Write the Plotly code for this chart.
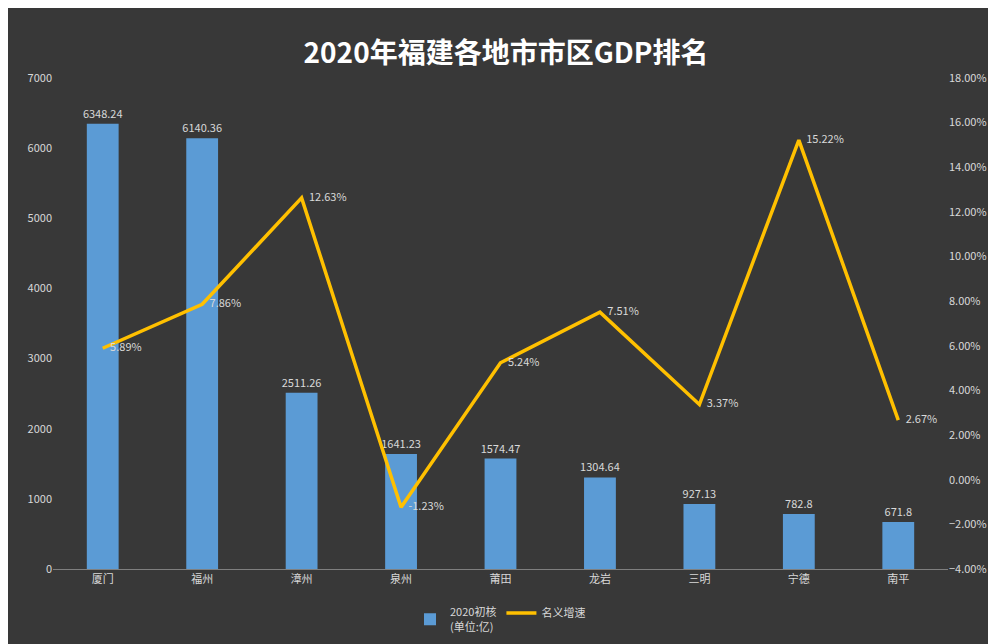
import plotly.graph_objects as go

cities = ["厦门", "福州", "漳州", "泉州", "莆田", "龙岩", "三明", "宁德", "南平"]
gdp = [6348.24, 6140.36, 2511.26, 1641.23, 1574.47, 1304.64, 927.13, 782.8, 671.8]
growth = [5.89, 7.86, 12.63, -1.23, 5.24, 7.51, 3.37, 15.22, 2.67]

font = "Noto Sans CJK SC"
fig = go.Figure()
fig.add_trace(go.Bar(x=cities, y=gdp, name="2020初核<br>(单位:亿)", width=0.32,
                     marker=dict(color="#5b9bd5", line=dict(width=0)),
                     text=[f"{v:g}" for v in gdp], textposition="outside", constraintext="none",
                     textfont=dict(color="#d9d9d9", size=11), cliponaxis=False))
fig.add_trace(go.Scatter(x=cities, y=growth, name="名义增速", yaxis="y2", mode="lines+text",
                         line=dict(color="#ffc000", width=3.5),
                         text=[f"   {v:.2f}%" for v in growth], textposition="middle right",
                         textfont=dict(color="#d9d9d9", size=11)))
fig.update_layout(
    width=996, height=644, paper_bgcolor="#383838", plot_bgcolor="rgba(0,0,0,0)",
    font=dict(family=font, color="#d9d9d9", size=11),
    title=dict(text="<b>2020年福建各地市市区GDP排名</b>", x=0.5, y=0.945, xanchor="center",
               font=dict(size=28, color="white", family=font)),
    margin=dict(l=45, r=56, t=70, b=78),
    bargap=0.68,
    xaxis=dict(showgrid=False, showline=True, linecolor="#7f7f7f", tickfont=dict(size=11, color="#d9d9d9")),
    yaxis=dict(range=[0, 7000], dtick=1000, showgrid=False, zeroline=False, tickfont=dict(color="#d9d9d9")),
    yaxis2=dict(range=[-4, 18], dtick=2, overlaying="y", side="right", showgrid=False, zeroline=False,
                ticksuffix=".00%", tickformat="d", tickfont=dict(color="#d9d9d9")),
    legend=dict(orientation="h", x=0.5, xanchor="center", y=-0.06, yanchor="top",
                font=dict(size=11, color="#d9d9d9"), bgcolor="rgba(0,0,0,0)"),
)
fig.write_html("out.html")
